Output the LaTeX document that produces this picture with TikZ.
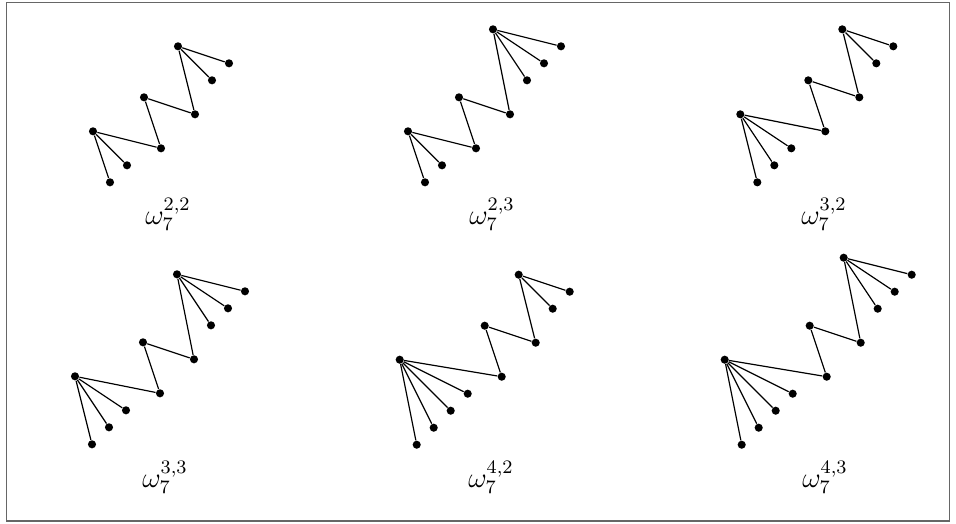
\documentclass[tikz,border=0pt]{standalone}
\begin{document}
\begin{tikzpicture}[x={(0.42pt,0)},y={(0,-0.42pt)},
  vdot/.style={circle,fill=black,inner sep=0pt,minimum size=3.4pt},
  edge/.style={line width=0.5pt},
  lab/.style={anchor=base,font=\large},
  frame/.style={draw=black!60,line width=0.7pt}]
\useasboundingbox (0,0) rectangle (956,523);
\draw[frame] (6.5,2.5) rectangle (949.5,521);
\newcommand\zgraph[8]{%
  \node[vdot] (#1c1) at (#2,#3) {};
  \node[vdot] (#1b) at (#2-17*#4-34,#3-17) {};
  \node[vdot] (#1c2) at (#2-17,#3-51) {};
  \node[vdot] (#1c3) at (#2+34,#3-34) {};
  \node[vdot] (#1t) at (#2+17,#3-34-17*#5-34) {};
  \draw[edge] (#1b) -- (#1c1) -- (#1c2) -- (#1c3) -- (#1t);
  \foreach \j in {1,...,#4}{
    \node[vdot] (#1bl\j) at (#2-17*#4-34+17*\j,#3-17+17*#4+34-17*\j) {};
    \draw[edge] (#1b) -- (#1bl\j);
  }
  \foreach \j in {1,...,#5}{
    \node[vdot] (#1tl\j) at (#2+17+17*\j+17,#3-34-17*#5-34+17*#5+17-17*\j) {};
    \draw[edge] (#1t) -- (#1tl\j);
  }
  \node[lab] (#1lab) at (#6,#7) {$#8$};
}
\zgraph{ga}{161}{148.3}{2}{2}{168}{224}{\omega_7^{2,2}}
\zgraph{gb}{476}{148.3}{2}{3}{492}{224}{\omega_7^{2,3}}
\zgraph{gc}{825.3}{131.3}{3}{2}{824}{224}{\omega_7^{3,2}}
\zgraph{gd}{160}{393.3}{3}{3}{165}{487}{\omega_7^{3,3}}
\zgraph{ge}{501.7}{376.7}{4}{2}{491}{487}{\omega_7^{4,2}}
\zgraph{gf}{826.7}{376.7}{4}{3}{825}{487}{\omega_7^{4,3}}
\end{tikzpicture}
\end{document}
